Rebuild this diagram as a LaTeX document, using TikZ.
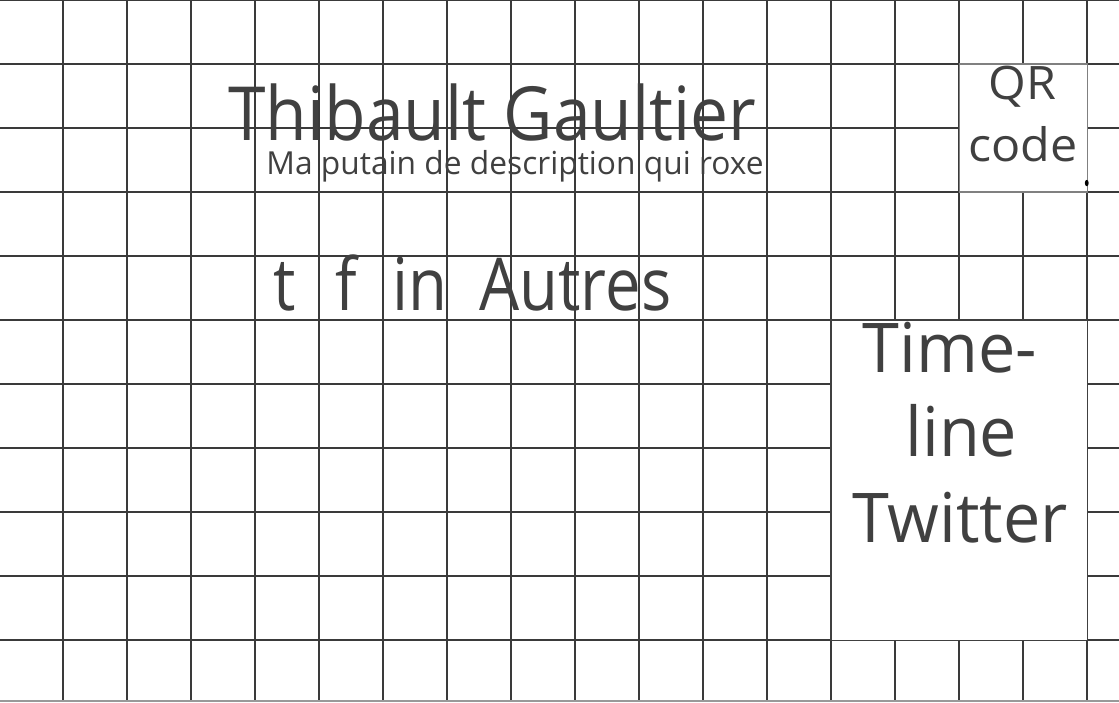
\documentclass[tikz,border=0pt]{standalone}
\usepackage{fontspec}
\setmainfont{Open Sans}
\usepackage{tikz}

\definecolor{ink}{HTML}{404040}
\definecolor{rule}{HTML}{3A3A3A}

\tikzset{
  gridline/.style={rule, line width=0.9pt},
  label/.style={inner sep=0pt, text=ink, transform shape},
  frame/.style={fill=white, line width=0.45pt}
}

\begin{document}
\begin{tikzpicture}
            \def\cellsize{1}
            \def\pagew{17.484}
            \def\pageh{10.969}
            \useasboundingbox (0,0) rectangle (\pagew,-\pageh);
            \fill[white] (0,0) rectangle (\pagew,-\pageh);

            % Paper grid, one cell = 64px
            \foreach \x in {0,...,16}{
                \draw[gridline] (0.984+\x,0) -- ++(0,-\pageh);
            }
            \foreach \y in {0,...,10}{
                \draw[gridline] (0,-\y) -- ++(\pagew,0);
            }
            \draw[gray!80, line width=0.9pt] (0,-10.953) -- ++(\pagew,0);

            % Header
            \node[label, anchor=base west, xscale=0.907, font=\fontsize{33.2}{36}\selectfont]
                (name) at (3.5625,-2.203) {Thibault Gaultier};
            \node[label, anchor=base west, font=\fontsize{14.1}{16}\selectfont]
                (desc) at (4.156,-2.72) {Ma putain de description qui roxe};

            % Social links
            \foreach \name/\x/\txt in {tw/4.266/t, fb/5.234/f, li/6.125/in, other/7.484/Autres}{
                \node[label, anchor=base west, xscale=0.87, font=\fontsize{32.4}{36}\selectfont]
                    (\name) at (\x,-4.855) {\txt};
            }

            % QR code box
            \draw[frame, draw=gray] (14.984,-1) rectangle (16.984,-3);
            \node[label, anchor=base, font=\fontsize{20.5}{22}\selectfont, xscale=1.05]
                (qr) at (15.97,-1.55) {QR};
            \node[label, anchor=base, font=\fontsize{20.5}{22}\selectfont, xscale=1.05]
                (code) at (15.98,-2.531) {code};
            \fill[black] (16.98,-2.86) ellipse[x radius=0.03, y radius=0.05];

            % Twitter timeline box
            \draw[frame, draw=ink] (12.984,-5) rectangle (16.984,-10);
            \node[label, anchor=base west, xscale=0.97, font=\fontsize{30.5}{34}\selectfont]
                (time) at (13.47,-5.8125) {Time-};
            \node[label, anchor=base west, xscale=0.97, font=\fontsize{30.5}{34}\selectfont]
                (line) at (14.14,-7.14) {line};
            \node[label, anchor=base west, xscale=0.97, font=\fontsize{30.5}{34}\selectfont]
                (twitter) at (13.31,-8.47) {Twitter};
        \end{tikzpicture}
\end{document}
